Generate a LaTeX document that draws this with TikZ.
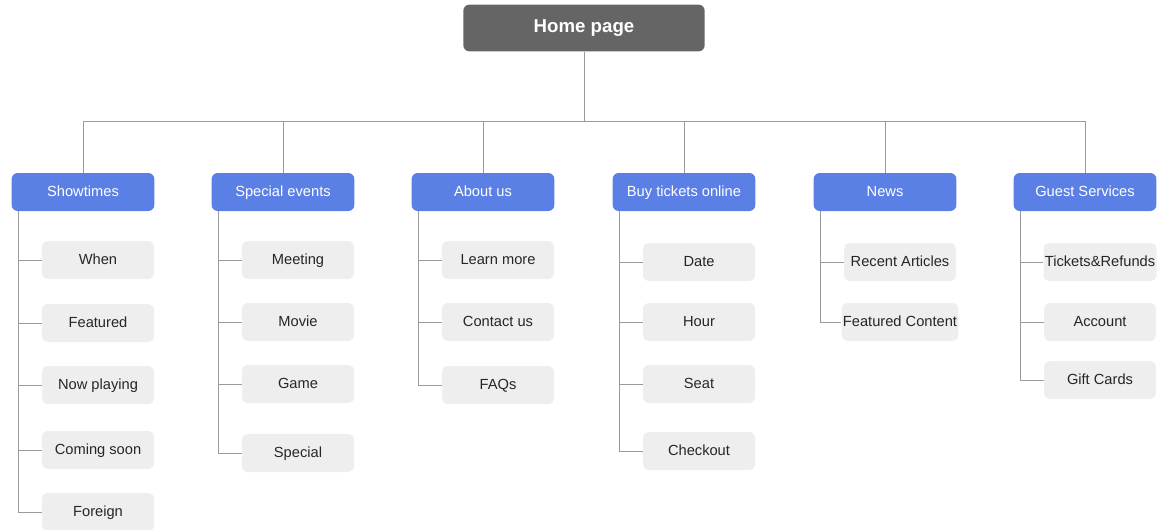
\documentclass[tikz,border=0pt]{standalone}
\usepackage{fontspec}
\setmainfont{Liberation Sans}
\usepackage{xcolor}
\usetikzlibrary{positioning,calc}

\definecolor{homegray}{HTML}{656565}
\definecolor{catblue}{HTML}{5B80E5}
\definecolor{itemgray}{HTML}{EEEEEE}
\definecolor{linegray}{HTML}{9A9A9A}

\begin{document}
\begin{tikzpicture}[
    x=0.75pt, y=-0.75pt,
    home/.style={fill=homegray, rounded corners=4.5pt, align=center, minimum width=181pt, minimum height=35pt, text=white, text height=1.6ex, text depth=0.4ex, font=\fontsize{14}{16}\selectfont\bfseries},
    cat/.style={fill=catblue, rounded corners=4.5pt, align=center, minimum width=107pt, minimum height=28.5pt, text=white, text height=1.6ex, text depth=0.4ex, font=\fontsize{11}{13}\selectfont},
    item/.style={fill=itemgray, rounded corners=4pt, align=center, minimum width=84pt, minimum height=28.5pt, inner xsep=1pt, text=black!85, text height=1.6ex, text depth=0.4ex, font=\fontsize{11}{13}\selectfont},
    link/.style={draw=linegray, line width=0.75pt}
]
\useasboundingbox (0,0) rectangle (1172,529);
\node[home] (home) at (584,28) {Home page};
\coordinate (bus) at (584,121);
\draw[link] (home) -- (bus);
% categories
\foreach \name/\x/\txt in {show/83/Showtimes, spec/283/Special events, about/483/About us,
    buy/684/Buy tickets online, news/885/News, guest/1085/Guest Services} {
  \node[cat] (\name) at (\x,192) {\txt};
  \draw[link] (\name.north) |- (bus);
}
% pages under each category
\foreach \p/\n/\y/\txt in {show/sw/260/When, show/sf/323/Featured, show/sn/385/Now playing,
    show/sc/450/Coming soon, show/so/512/Foreign,
    spec/em/260/Meeting, spec/ev/322/Movie, spec/eg/384/Game, spec/es/453/Special,
    about/al/260/Learn more, about/ac/322/Contact us, about/af/385/FAQs,
    buy/bd/262/Date, buy/bh/322/Hour, buy/bs/384/Seat, buy/bc/451/Checkout,
    news/nr/262/Recent Articles, news/nf/322/Featured Content,
    guest/gt/262/Tickets\&Refunds, guest/ga/322/Account, guest/gg/380/Gift Cards} {
  \node[item] (\n) at ($(\p)+(15,{\y-192})$) {\txt};
  \draw[link] ([xshift=5.25pt]\p.south west) |- (\n.west);
}
\end{tikzpicture}
\end{document}
